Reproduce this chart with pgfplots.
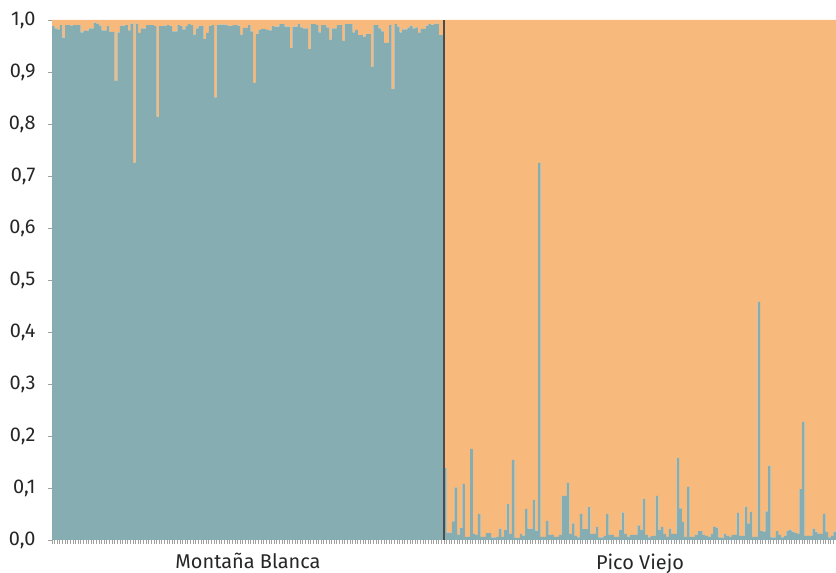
\documentclass[border=0pt]{standalone}
\usepackage{pgfplots}
\pgfplotsset{compat=1.18}
\usepackage{pgfplotstable}
\usepackage{fontspec}
\setmainfont{Fira Sans}
\definecolor{tealc}{RGB}{134,174,178}
\definecolor{orngc}{RGB}{247,185,124}
\definecolor{axgray}{RGB}{160,160,160}
\pgfplotstableread{
i q
0 0.988
1 0.984
2 0.982
3 0.990
4 0.966
5 0.990
6 0.990
7 0.989
8 0.990
9 0.990
10 0.990
11 0.976
12 0.980
13 0.979
14 0.984
15 0.984
16 0.995
17 0.993
18 0.989
19 0.980
20 0.980
21 0.988
22 0.977
23 0.977
24 0.883
25 0.976
26 0.988
27 0.989
28 0.990
29 0.980
30 0.993
31 0.725
32 0.993
33 0.975
34 0.984
35 0.984
36 0.990
37 0.990
38 0.990
39 0.988
40 0.814
41 0.988
42 0.988
43 0.989
44 0.990
45 0.988
46 0.978
47 0.978
48 0.990
49 0.988
50 0.982
51 0.988
52 0.992
53 0.990
54 0.972
55 0.984
56 0.989
57 0.988
58 0.963
59 0.975
60 0.988
61 0.990
62 0.851
63 0.990
64 0.991
65 0.991
66 0.991
67 0.989
68 0.988
69 0.990
70 0.990
71 0.989
72 0.972
73 0.985
74 0.985
75 0.990
76 0.978
77 0.879
78 0.973
79 0.981
80 0.983
81 0.983
82 0.981
83 0.980
84 0.988
85 0.987
86 0.987
87 0.992
88 0.992
89 0.987
90 0.987
91 0.946
92 0.987
93 0.987
94 0.992
95 0.986
96 0.984
97 0.984
98 0.944
99 0.992
100 0.992
101 0.990
102 0.976
103 0.990
104 0.990
105 0.986
106 0.962
107 0.984
108 0.984
109 0.990
110 0.990
111 0.960
112 0.992
113 0.992
114 0.992
115 0.976
116 0.981
117 0.971
118 0.971
119 0.968
120 0.973
121 0.973
122 0.910
123 0.990
124 0.990
125 0.984
126 0.978
127 0.956
128 0.956
129 0.990
130 0.867
131 0.992
132 0.987
133 0.976
134 0.982
135 0.982
136 0.986
137 0.989
138 0.984
139 0.986
140 0.975
141 0.983
142 0.983
143 0.989
144 0.992
145 0.990
146 0.992
147 0.993
148 0.971
149 0.971
150 0.138
151 0.014
152 0.014
153 0.036
154 0.101
155 0.010
156 0.023
157 0.108
158 0.006
159 0.006
160 0.175
161 0.012
162 0.010
163 0.050
164 0.006
165 0.006
166 0.013
167 0.013
168 0.005
169 0.005
170 0.006
171 0.022
172 0.006
173 0.019
174 0.069
175 0.012
176 0.154
177 0.004
178 0.004
179 0.012
180 0.008
181 0.060
182 0.022
183 0.022
184 0.077
185 0.018
186 0.725
187 0.006
188 0.006
189 0.037
190 0.010
191 0.010
192 0.006
193 0.006
194 0.010
195 0.085
196 0.085
197 0.110
198 0.012
199 0.032
200 0.008
201 0.005
202 0.050
203 0.021
204 0.021
205 0.063
206 0.012
207 0.012
208 0.025
209 0.005
210 0.005
211 0.008
212 0.050
213 0.010
214 0.010
215 0.006
216 0.006
217 0.019
218 0.053
219 0.012
220 0.006
221 0.010
222 0.010
223 0.010
224 0.028
225 0.019
226 0.079
227 0.010
228 0.005
229 0.008
230 0.008
231 0.085
232 0.019
233 0.025
234 0.012
235 0.006
236 0.022
237 0.012
238 0.012
239 0.158
240 0.061
241 0.035
242 0.006
243 0.102
244 0.006
245 0.006
246 0.010
247 0.017
248 0.017
249 0.010
250 0.008
251 0.006
252 0.012
253 0.025
254 0.024
255 0.005
256 0.004
257 0.012
258 0.008
259 0.006
260 0.010
261 0.010
262 0.052
263 0.008
264 0.008
265 0.064
266 0.032
267 0.054
268 0.006
269 0.006
270 0.458
271 0.017
272 0.016
273 0.055
274 0.143
275 0.005
276 0.005
277 0.017
278 0.010
279 0.005
280 0.008
281 0.017
282 0.020
283 0.016
284 0.014
285 0.012
286 0.098
287 0.227
288 0.008
289 0.008
290 0.008
291 0.022
292 0.016
293 0.012
294 0.012
295 0.050
296 0.016
297 0.005
298 0.008
299 0.016
}\datatab
\begin{document}
\begin{tikzpicture}[x=1bp,y=1bp]
\useasboundingbox (0,0) rectangle (836,573);
\begin{axis}[
  at={(52bp,33bp)}, anchor=south west,
  width=784bp, height=520bp, scale only axis,
  xmin=0, xmax=300, ymin=0, ymax=1,
  axis x line*=bottom, axis y line*=left,
  axis line style={axgray, line width=1bp},
  ybar stacked, bar width=1, bar shift=0,
  ytick={0,0.1,0.2,0.3,0.4,0.5,0.6,0.7,0.8,0.9,1.0},
  yticklabel style={font=\fontsize{20}{23}\selectfont, text=black!85, xshift=-9bp,
    /pgf/number format/.cd, fixed, fixed zerofill, precision=1, use comma, assume math mode=true},
  tick align=outside, major tick length=4bp,
  tick style={axgray, line width=0.8bp},
  xtick={0,1,...,300}, xticklabels={},
  extra x ticks={75,225},
  extra x tick labels={Montaña Blanca, Pico Viejo},
  extra x tick style={major tick length=0bp,
    tick label style={font=\fontsize{20}{23}\selectfont, text=black!85, yshift=-10bp}},
]
\addplot [fill=tealc, draw=none] table [x expr=\thisrow{i}+0.5, y=q] {\datatab};
\addplot [fill=orngc, draw=none] table [x expr=\thisrow{i}+0.5, y expr=1-\thisrow{q}] {\datatab};
\end{axis}
\begin{axis}[
  at={(52bp,33bp)}, anchor=south west,
  width=784bp, height=520bp, scale only axis,
  xmin=0, xmax=300, ymin=0, ymax=1,
  hide axis,
]
\addplot [black!70, line width=1.6bp, mark=none] coordinates {(150,0) (150,1)};
\end{axis}
\end{tikzpicture}
\end{document}
